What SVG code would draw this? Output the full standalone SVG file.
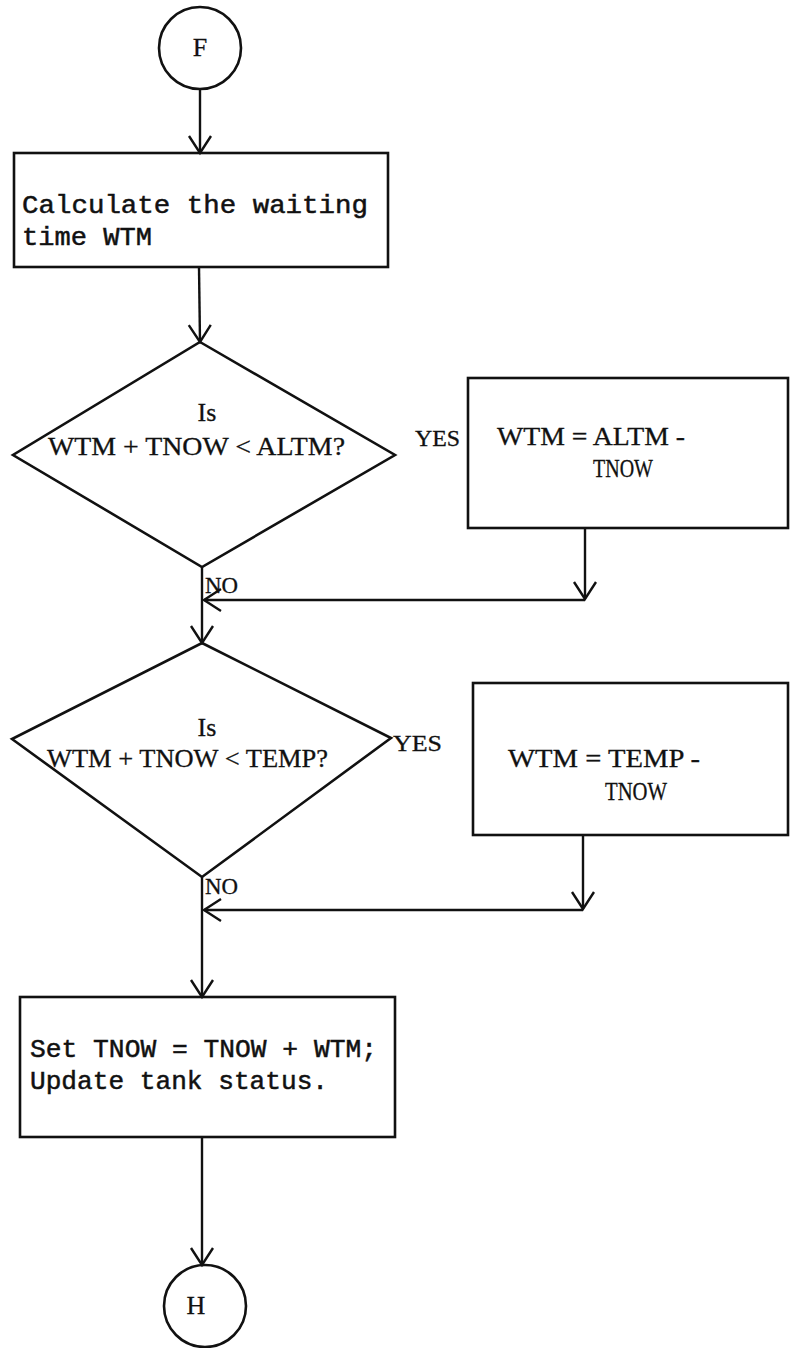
<svg xmlns="http://www.w3.org/2000/svg" width="790" height="1348" viewBox="0 0 790 1348">
<style>
.shape{fill:none;stroke:#111;stroke-width:2.6}
.conn{fill:none;stroke:#111;stroke-width:2.4}
.mono{font-family:"Liberation Mono","Courier New",monospace;font-size:26px;fill:#111;stroke:#111;stroke-width:0.5}
.serif{font-family:"Liberation Serif","Times New Roman",serif;font-size:26px;fill:#111;stroke:#111;stroke-width:0.3}
.lbl{font-family:"Liberation Serif","Times New Roman",serif;font-size:23px;fill:#111;stroke:#111;stroke-width:0.3}
</style>
<defs>
<marker id="arr" markerUnits="userSpaceOnUse" markerWidth="40" markerHeight="40" viewBox="-20 -20 40 40" refX="0" refY="0" orient="auto">
<path d="M-17,-11 L0,0 L-17,11" fill="none" stroke="#111" stroke-width="2.4"/>
</marker>
</defs>
<rect width="790" height="1348" fill="#fff"/>
<g id="connectors">
<path class="conn" d="M200,89 L200,153" marker-end="url(#arr)"/>
<path class="conn" d="M199,267 L200,342" marker-end="url(#arr)"/>
<path class="conn" d="M202,567 L202,643" marker-end="url(#arr)"/>
<path class="conn" d="M585,528 L585,599" marker-end="url(#arr)"/>
<path class="conn" d="M585,600 L204,600" marker-end="url(#arr)"/>
<path class="conn" d="M202,877 L202,997" marker-end="url(#arr)"/>
<path class="conn" d="M583,835 L583,909" marker-end="url(#arr)"/>
<path class="conn" d="M583,910 L204,910" marker-end="url(#arr)"/>
<path class="conn" d="M202,1137 L202,1265" marker-end="url(#arr)"/>
<text class="lbl" x="205" y="593" textLength="33" lengthAdjust="spacingAndGlyphs">NO</text>
<text class="lbl" x="415" y="446" textLength="45" lengthAdjust="spacingAndGlyphs">YES</text>
<text class="lbl" x="393" y="751" textLength="49" lengthAdjust="spacingAndGlyphs">YES</text>
<text class="lbl" x="205" y="894" textLength="33" lengthAdjust="spacingAndGlyphs">NO</text>
</g>
<g id="F">
<circle class="shape" cx="200" cy="48" r="41"/>
<text class="serif" x="200" y="56" text-anchor="middle" font-size="22">F</text>
</g>
<g id="calc">
<rect class="shape" x="14" y="153" width="374" height="114"/>
<text class="mono" x="22" y="213" textLength="346" lengthAdjust="spacingAndGlyphs">Calculate the waiting</text>
<text class="mono" x="22" y="245" textLength="130" lengthAdjust="spacingAndGlyphs">time WTM</text>
</g>
<g id="dec1">
<polygon class="shape" points="200,342 395,455 202,567 13,455"/>
<text class="serif" x="207" y="421" text-anchor="middle" font-size="25">Is</text>
<text class="serif" x="48" y="455" textLength="297" lengthAdjust="spacingAndGlyphs">WTM + TNOW  &lt;  ALTM?</text>
</g>
<g id="altm">
<rect class="shape" x="468" y="378" width="320" height="150"/>
<text class="serif" x="497" y="445" textLength="188" lengthAdjust="spacingAndGlyphs">WTM = ALTM -</text>
<text class="serif" x="593" y="477" font-size="23" textLength="60" lengthAdjust="spacingAndGlyphs">TNOW</text>
</g>
<g id="dec2">
<polygon class="shape" points="202,643 391,738 202,877 12,739"/>
<text class="serif" x="207" y="736" text-anchor="middle" font-size="24">Is</text>
<text class="serif" x="47" y="767" font-size="24" textLength="281" lengthAdjust="spacingAndGlyphs">WTM + TNOW  &lt;  TEMP?</text>
</g>
<g id="temp">
<rect class="shape" x="473" y="683" width="315" height="152"/>
<text class="serif" x="508" y="767" font-size="24" textLength="192" lengthAdjust="spacingAndGlyphs">WTM = TEMP -</text>
<text class="serif" x="605" y="800" font-size="24" textLength="62" lengthAdjust="spacingAndGlyphs">TNOW</text>
</g>
<g id="update">
<rect class="shape" x="20" y="997" width="375" height="140"/>
<text class="mono" x="30" y="1057" textLength="347" lengthAdjust="spacingAndGlyphs">Set TNOW = TNOW + WTM;</text>
<text class="mono" x="30" y="1089" textLength="298" lengthAdjust="spacingAndGlyphs">Update tank status.</text>
</g>
<g id="H">
<circle class="shape" cx="205" cy="1306" r="41"/>
<text class="serif" x="196" y="1314" text-anchor="middle" font-size="22">H</text>
</g>
</svg>
